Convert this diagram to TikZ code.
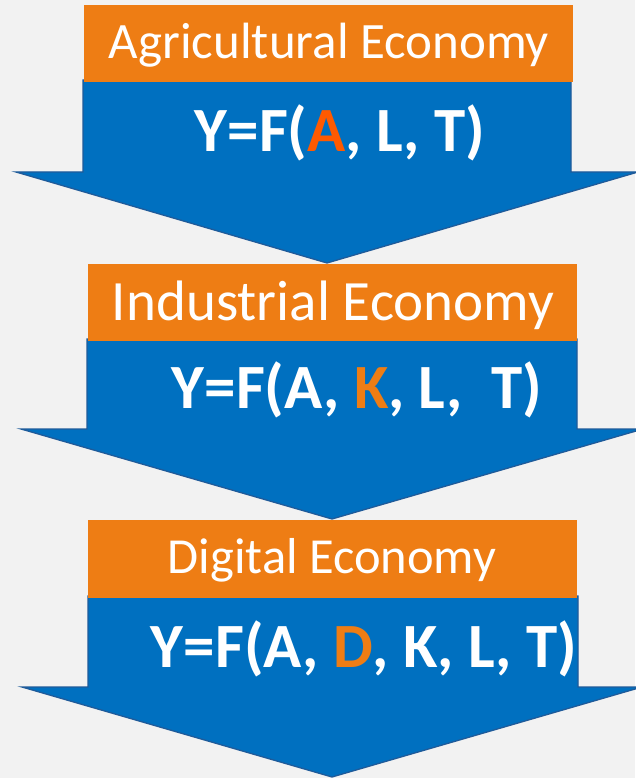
\documentclass[tikz,border=0pt]{standalone}
\usepackage{fontspec}
\setmainfont{Carlito}
\definecolor{bg}{HTML}{F2F2F2}
\definecolor{orangebox}{HTML}{EE7D14}
\definecolor{bluearrow}{HTML}{0070C0}
\definecolor{blueedge}{HTML}{1F5B9A}
\definecolor{hiA}{HTML}{FF5A00}
\definecolor{hiK}{HTML}{EE7D14}
\begin{document}
\begin{tikzpicture}[x=1pt,y=-1pt,
  arrowbody/.style={fill=bluearrow, draw=blueedge, line width=1.3pt, line join=miter},
  headbox/.style={fill=orangebox},
  labeltext/.style={text=white, anchor=base, inner sep=0pt},
  formula/.style={text=white, anchor=base, inner sep=0pt, font=\bfseries\fontsize{63}{63}\selectfont}]
\useasboundingbox (0,0) rectangle (635,778);
\fill[bg] (0,0) rectangle (635,778);
% arrow 1
\draw[arrowbody] (83,80) -- (571,80) -- (571,172) -- (638,172) -- (327,263) -- (16,172) -- (83,172) -- cycle;
\fill[headbox] (84,5) rectangle (573,82);
% arrow 2
\draw[arrowbody] (87,339) -- (577,339) -- (577,429) -- (643,429) -- (332,519) -- (21,429) -- (87,429) -- cycle;
\fill[headbox] (88,264) rectangle (577,341);
% arrow 3
\draw[arrowbody] (88,596) -- (578,596) -- (578,687) -- (642,687) -- (332,777) -- (22,687) -- (88,687) -- cycle;
\fill[headbox] (88,520) rectangle (577,598);
% labels
\node[labeltext, font=\fontsize{51}{51}\selectfont] (t1) at (329,59) {Agricultural Economy};
\node[labeltext, font=\fontsize{57}{57}\selectfont] (t2) at (333,320) {Industrial Economy};
\node[labeltext, font=\fontsize{50.5}{50.5}\selectfont] (t3) at (332,573) {Digital Economy};
% formulas
\node[formula] (f1) at (340,152) {Y=F(\textcolor{hiA}{A}, L, T)};
\node[formula] (f2) at (357,408) {Y=F(A, \textcolor{hiK}{K}, L,\ \ T)};
\node[formula] (f3) at (364,667) {Y=F(A, \textcolor{hiK}{D}, K, L, T)};
\end{tikzpicture}
\end{document}
